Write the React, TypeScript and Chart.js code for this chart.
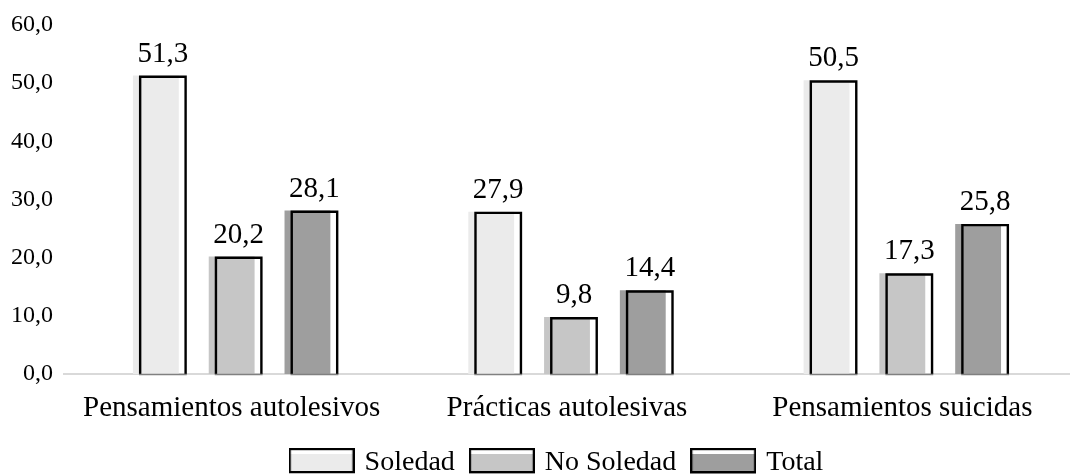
import React, { useEffect, useRef } from "react";
import { Chart, registerables } from "chart.js";

Chart.register(...registerables);

const categories = ["Pensamientos autolesivos", "Prácticas autolesivas", "Pensamientos suicidas"];
const seriesNames = ["Soledad", "No Soledad", "Total"];
const soledad = [51.3, 27.9, 50.5];
const noSoledad = [20.2, 9.8, 17.3];
const total = [28.1, 14.4, 25.8];
const seriesColors = ["#ebebeb", "#c6c6c6", "#9e9e9e"];
const yMin = 0;
const yMax = 60;
const yStep = 10;

const FONT = "'Liberation Serif', 'Times New Roman', serif";
const fmt = (v: number) => v.toFixed(1).replace(".", ",");

function makeLegendIcon(color: string): HTMLCanvasElement {
  const c = document.createElement("canvas");
  c.width = 66;
  c.height = 30;
  const g = c.getContext("2d")!;
  g.fillStyle = color;
  g.fillRect(0, 6, 66, 24);
  g.strokeStyle = "#000";
  g.lineWidth = 2.2;
  g.strokeRect(1.1, 1.1, 63.8, 23);
  return c;
}

const offsetBorderPlugin = {
  id: "offsetBorder",
  afterLayout(chart: any) {
    const lg = chart.legend;
    if (lg) {
      lg.left -= 9;
      lg.right -= 9;
    }
  },
  afterDatasetsDraw(chart: any) {
    const ctx = chart.ctx;
    ctx.save();
    chart.data.datasets.forEach((ds: any, di: number) => {
      const meta = chart.getDatasetMeta(di);
      meta.data.forEach((bar: any, i: number) => {
        const { x, y, base, width } = bar.getProps(["x", "y", "base", "width"], true);
        const left = x - width / 2 + 6;
        const w = width + 2;
        const lw = 2.4;
        ctx.strokeStyle = "#000";
        ctx.lineWidth = lw;
        ctx.beginPath();
        ctx.moveTo(left + lw / 2, base);
        ctx.lineTo(left + lw / 2, y + lw / 2);
        ctx.lineTo(left + w - lw / 2, y + lw / 2);
        ctx.lineTo(left + w - lw / 2, base);
        ctx.stroke();
        ctx.strokeStyle = "#808080";
        ctx.lineWidth = 1.5;
        ctx.beginPath();
        ctx.moveTo(left, base + 0.5);
        ctx.lineTo(left + w, base + 0.5);
        ctx.stroke();
        ctx.fillStyle = "#000";
        ctx.font = `29px ${FONT}`;
        ctx.textAlign = "center";
        ctx.textBaseline = "alphabetic";
        ctx.fillText(fmt(ds.data[i]), left + w / 2, y - 14);
      });
    });
    ctx.restore();
  },
};

export default function App() {
  const ref = useRef<HTMLCanvasElement>(null);
  useEffect(() => {
    document.body.style.margin = "0";
    const seriesData = [soledad, noSoledad, total];
    const icons = seriesColors.map(makeLegendIcon);
    const chart = new Chart(ref.current!, {
      type: "bar",
      data: {
        labels: categories,
        datasets: seriesNames.map((name, k) => ({
          label: name,
          data: seriesData[k],
          backgroundColor: seriesColors[k],
          borderWidth: 0,
          categoryPercentage: 0.678,
          barPercentage: 0.605,
          pointStyle: icons[k] as any,
        })),
      },
      options: {
        animation: false,
        responsive: true,
        maintainAspectRatio: false,
        layout: { padding: { top: 25, right: 0, left: 0, bottom: 0 } },
        plugins: {
          tooltip: { enabled: false },
          legend: {
            position: "bottom",
            fullSize: false,
            maxHeight: 43,
            labels: {
              usePointStyle: true,
              pointStyleWidth: 58,
              padding: 18,
              color: "#000",
              font: { family: FONT, size: 28 },
              generateLabels: (ch: any) =>
                ch.data.datasets.map((ds: any, k: number) => ({
                  text: ds.label,
                  pointStyle: icons[k],
                  fillStyle: seriesColors[k],
                  strokeStyle: "#000",
                  lineWidth: 0,
                  hidden: false,
                  datasetIndex: k,
                  fontColor: "#000",
                })),
            },
          },
        },
        scales: {
          x: {
            grid: { display: false },
            border: { display: true, color: "#d9d9d9", width: 2 },
            ticks: {
              color: "#000",
              font: { family: FONT, size: 29 },
              padding: 9,
              maxRotation: 0,
            },
            afterFit: (s: any) => {
              s.height = 57;
            },
          },
          y: {
            min: yMin,
            max: yMax,
            grid: { display: false },
            border: { display: false },
            ticks: {
              stepSize: yStep,
              color: "#000",
              font: { family: FONT, size: 24 },
              padding: 3,
              callback: (v: any) => fmt(Number(v)),
            },
            afterFit: (s: any) => {
              s.width = 64;
            },
          },
        },
      },
      plugins: [offsetBorderPlugin],
    });
    return () => chart.destroy();
  }, []);
  return (
    <div style={{ width: 1070, height: 474, position: "relative" }}>
      <canvas ref={ref} />
    </div>
  );
}
